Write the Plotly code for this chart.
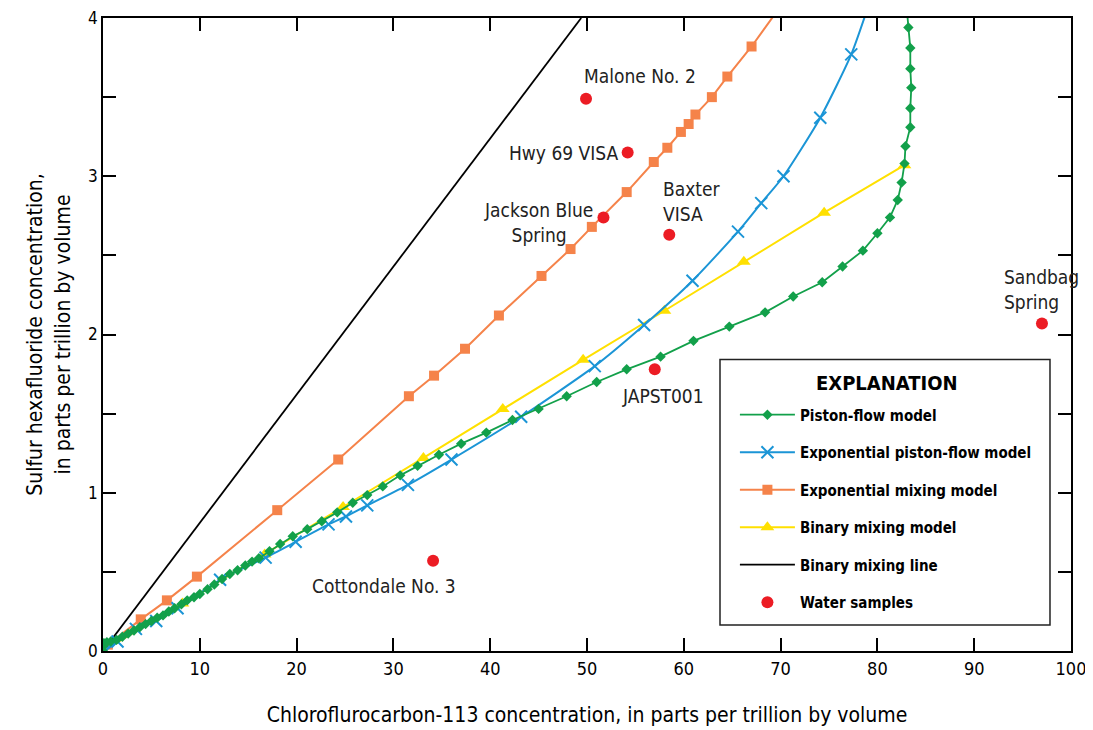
import plotly.graph_objects as go

FONT = "Liberation Sans Narrow, DejaVu Sans Condensed, Arial Narrow, sans-serif"

# ---- data ----
piston_x = [0.0, 0.0, 0.1, 0.4, 0.8, 1.4, 2.0, 2.6, 3.2, 3.8, 4.4, 5.0, 5.6, 6.2, 6.8, 7.4, 8.1, 8.7, 9.4,
            10.0, 10.8, 11.5, 12.3, 13.1, 13.9, 14.7, 15.4, 16.1, 17.2, 18.3, 19.6, 21.1, 22.6, 24.2,
            25.8, 27.3, 28.9, 30.7, 32.5, 34.7, 37.0, 39.6, 42.3, 45.0, 47.9, 51.0, 54.1, 57.6, 61.0,
            64.7, 68.4, 71.3, 74.3, 76.4, 78.5, 80.0, 81.3, 82.1, 82.5, 82.8, 82.9, 83.4, 83.4, 83.5,
            83.4, 83.4, 83.2, 83.0]
piston_y = [0.0, 0.03, 0.05, 0.055, 0.06, 0.07, 0.09, 0.11, 0.13, 0.15, 0.17, 0.19, 0.21, 0.225, 0.25, 0.27,
            0.295, 0.32, 0.34, 0.36, 0.39, 0.42, 0.455, 0.487, 0.51, 0.54, 0.565, 0.586, 0.63, 0.676,
            0.725, 0.77, 0.82, 0.876, 0.937, 0.985, 1.04, 1.11, 1.17, 1.24, 1.31, 1.38, 1.46, 1.53,
            1.61, 1.70, 1.78, 1.86, 1.96, 2.05, 2.14, 2.24, 2.33, 2.43, 2.53, 2.64, 2.74, 2.85, 2.96,
            3.08, 3.19, 3.31, 3.43, 3.56, 3.68, 3.81, 3.94, 4.08]

exp_piston_x = [0.2, 1.5, 3.4, 5.5, 7.7, 12.1, 16.8, 19.9, 23.3, 25.1, 27.3, 31.5, 36.0, 43.2, 50.8,
                55.9, 60.9, 65.6, 68.0, 70.3, 74.1, 77.3, 79.2]
exp_piston_y = [0.0, 0.06, 0.14, 0.19, 0.27, 0.45, 0.59, 0.69, 0.80, 0.85, 0.92, 1.05, 1.21, 1.48, 1.80,
                2.06, 2.34, 2.65, 2.83, 3.00, 3.37, 3.77, 4.10]

exp_mixing_x = [0.5, 3.9, 6.6, 9.7, 18.0, 24.3, 31.6, 34.2, 37.4, 40.9, 45.3, 48.3, 50.5, 54.1, 56.9,
                58.3, 59.7, 60.5, 61.2, 62.9, 64.5, 67.0, 70.3]
exp_mixing_y = [0.04, 0.20, 0.32, 0.47, 0.89, 1.21, 1.61, 1.74, 1.91, 2.12, 2.37, 2.54, 2.68, 2.90, 3.09,
                3.18, 3.28, 3.33, 3.39, 3.50, 3.63, 3.82, 4.10]

binary_model_x = [0.0, 8.2, 16.7, 24.8, 33.1, 41.3, 49.6, 58.0, 66.2, 74.5, 82.8]
binary_model_y = [0.0, 0.30, 0.61, 0.91, 1.22, 1.53, 1.84, 2.15, 2.46, 2.77, 3.07]

binary_line_x = [0.0, 49.4]
binary_line_y = [0.0, 4.0]

sample_names = ["Malone No. 2", "Hwy 69 VISA", "Jackson Blue<br>Spring", "Baxter<br>VISA",
                "JAPST001", "Cottondale No. 3", "Sandbag<br>Spring"]
sample_x = [49.9, 54.2, 51.7, 58.5, 57.0, 34.1, 97.0]
sample_y = [3.49, 3.15, 2.74, 2.63, 1.78, 0.57, 2.07]

x_ticks = [0, 10, 20, 30, 40, 50, 60, 70, 80, 90, 100]
y_ticks = [0, 0.5, 1, 1.5, 2, 2.5, 3, 3.5, 4]
y_ticktext = ["0", "", "1", "", "2", "", "3", "", "4"]

legend_title = "EXPLANATION"

# ---- styles ----
GREEN = "#12a04a"
BLUE = "#1b95d6"
ORANGE = "#f5834a"
YELLOW = "#ffe000"
RED = "#ec1c24"

fig = go.Figure()

fig.add_trace(go.Scatter(x=binary_line_x, y=binary_line_y, mode="lines", name="Binary mixing line",
                         line=dict(color="black", width=1.8), legendrank=5, legendgroup="g5"))
fig.add_trace(go.Scatter(x=binary_model_x, y=binary_model_y, mode="lines+markers", name="Binary mixing model",
                         line=dict(color=YELLOW, width=2),
                         marker=dict(symbol="triangle-up", size=12, color=YELLOW), legendrank=4,
                         legendgroup="g4"))
fig.add_trace(go.Scatter(x=exp_mixing_x, y=exp_mixing_y, mode="lines+markers", name="Exponential mixing model",
                         line=dict(color=ORANGE, width=2),
                         marker=dict(symbol="square", size=10, color=ORANGE), legendrank=3, legendgroup="g3"))
fig.add_trace(go.Scatter(x=exp_piston_x, y=exp_piston_y, mode="lines+markers",
                         name="Exponential piston-flow model",
                         line=dict(color=BLUE, width=2, shape="spline", smoothing=0.6),
                         marker=dict(symbol="x-thin", size=12, color=BLUE, line=dict(color=BLUE, width=2)),
                         legendrank=2, legendgroup="g2"))
fig.add_trace(go.Scatter(x=piston_x, y=piston_y, mode="lines+markers", name="Piston-flow model",
                         line=dict(color=GREEN, width=1.8),
                         marker=dict(symbol="diamond", size=8, color=GREEN), legendrank=1, legendgroup="g1"))
fig.add_trace(go.Scatter(x=sample_x, y=sample_y, mode="markers", name="Water samples",
                         marker=dict(symbol="circle", size=12, color=RED), legendrank=6, legendgroup="g6"))

# sample labels: (xanchor, yanchor, xshift, yshift, align)
label_pos = [("left", "bottom", -4, 10, "left"),
             ("right", "middle", -8, 0, "right"),
             ("right", "middle", -8, -5, "center"),
             ("left", "bottom", -8, 8, "left"),
             ("center", "top", 8, -14, "center"),
             ("right", "middle", 25, -25, "center"),
             ("left", "bottom", -40, 8, "left")]
for name, xv, yv, (xa, ya, xs, ys, al) in zip(sample_names, sample_x, sample_y, label_pos):
    fig.add_annotation(x=xv, y=yv, text=name, showarrow=False, xanchor=xa, yanchor=ya,
                       xshift=xs, yshift=ys, align=al,
                       font=dict(family=FONT, size=19, color="#222"))

# legend frame and heading
fig.add_shape(type="rect", xref="paper", yref="paper", x0=0.6374, x1=0.9783, y0=0.041, y1=0.4606,
              line=dict(color="#222", width=1.5), fillcolor="white", layer="above")
fig.add_annotation(xref="paper", yref="paper", x=0.81, y=0.4227, text="<b>" + legend_title + "</b>",
                   showarrow=False, xanchor="center", yanchor="middle",
                   font=dict(family=FONT, size=20, color="black"))

axis_common = dict(showline=True, linecolor="black", linewidth=1.8, mirror="ticks", ticks="inside",
                   ticklen=13, tickwidth=1.5, tickcolor="black", showgrid=False, zeroline=False,
                   automargin=False, ticklabeloverflow="allow")

fig.update_xaxes(range=[0, 100], tickvals=x_ticks,
                 tickfont=dict(family=FONT, size=18, color="black"),
                 title=dict(text="Chloroflurocarbon-113 concentration, in parts per trillion by volume",
                            font=dict(family=FONT, size=21, color="black"), standoff=30),
                 **axis_common)
fig.update_yaxes(range=[0, 4], tickvals=y_ticks, ticktext=y_ticktext,
                 tickfont=dict(family=FONT, size=17, color="black"),
                 title=dict(text="Sulfur hexafluoride concentration,<br>in parts per trillion by volume",
                            font=dict(family=FONT, size=21, color="black"), standoff=12),
                 **axis_common)

fig.update_layout(
    width=1085, height=722,
    margin=dict(l=95, r=22, t=10, b=79),
    plot_bgcolor="white", paper_bgcolor="white",
    legend=dict(x=0.6528, y=0.399, xanchor="left", yanchor="top",
                borderwidth=0, bgcolor="rgba(0,0,0,0)",
                font=dict(family=FONT, size=15, color="black", weight="bold"),
                tracegroupgap=15, itemwidth=55),
)

fig.write_html("out.html")
